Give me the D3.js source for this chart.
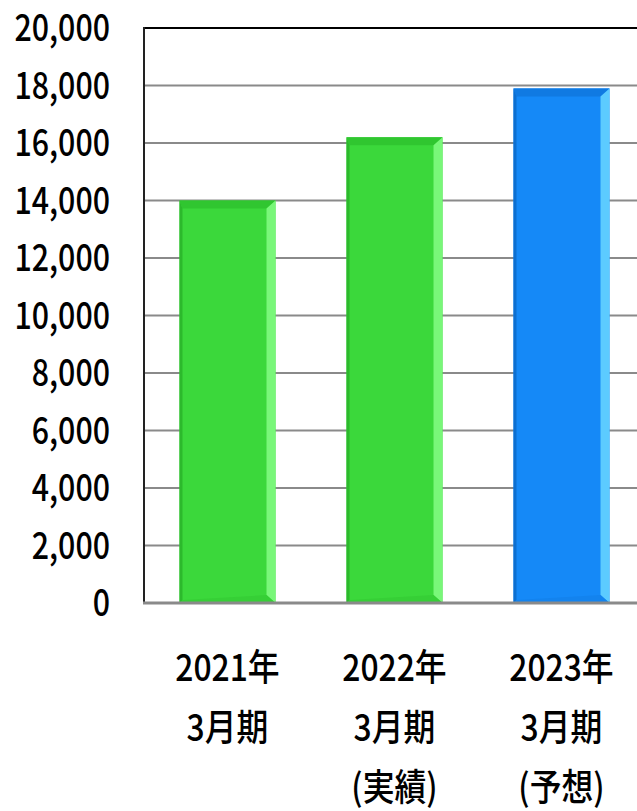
<!DOCTYPE html>
<html>
<head>
<meta charset="utf-8">
<script src="https://cdn.jsdelivr.net/npm/d3@7"></script>
<style>
  body { margin: 0; background: #fff; }
  text { font-family: "Liberation Sans Narrow", "Noto Sans CJK JP", sans-serif; fill: #000; font-weight: 500; }
</style>
</head>
<body>
<script>
var width = 637;
var height = 811;

var categories = ["2021", "2022", "2023"];
var labelLines = [
  ["2021年", "3月期"],
  ["2022年", "3月期", "(実績)"],
  ["2023年", "3月期", "(予想)"]
];
var values = [14000, 16200, 17900];
var yTicks = [0, 2000, 4000, 6000, 8000, 10000, 12000, 14000, 16000, 18000, 20000];

// forecast bar is blue, actuals green
var fills = ["green", "green", "blue"];
var palette = {
  green: { face: "#3bd83b", top: "#30c630", right: "#79f779", left: "#2cb92c", bottom: "#36cf36" },
  blue:  { face: "#1589f7", top: "#107ae2", right: "#5ccbff", left: "#0d6fd0", bottom: "#1383ee" }
};

var plotLeft = 144, plotRight = 645, plotTop = 28, plotBottom = 603;

var svg = d3.select("body")
  .append("svg")
  .attr("width", width)
  .attr("height", height);

var x = d3.scaleBand()
  .domain(categories)
  .range([plotLeft, plotRight])
  .paddingInner(0.425)
  .paddingOuter(0.2125);

var y = d3.scaleLinear()
  .domain([0, 20000])
  .range([plotBottom, plotTop]);

// gridlines
svg.selectAll("line.grid")
  .data(yTicks.filter(function(d) { return d > 0 && d < 20000; }))
  .enter()
  .append("line")
  .attr("class", "grid")
  .attr("x1", plotLeft)
  .attr("x2", width)
  .attr("y1", function(d) { return y(d); })
  .attr("y2", function(d) { return y(d); })
  .attr("stroke", "#8a8a8a")
  .attr("stroke-width", 2);

// frame: top and left black
svg.append("line")
  .attr("x1", plotLeft).attr("x2", width)
  .attr("y1", y(20000)).attr("y2", y(20000))
  .attr("stroke", "#000").attr("stroke-width", 2);
svg.append("line")
  .attr("x1", plotLeft).attr("x2", plotLeft)
  .attr("y1", y(20000) - 1).attr("y2", y(0))
  .attr("stroke", "#222").attr("stroke-width", 2);

// bars with bevel
var bev = 9, bevTop = 8;
var bars = svg.selectAll("g.bar")
  .data(values)
  .enter()
  .append("g")
  .attr("class", "bar");

bars.each(function(d, i) {
  var g = d3.select(this);
  var c = palette[fills[i]];
  var x0 = x(categories[i]), x1 = x0 + x.bandwidth();
  var y0 = y(d), y1 = y(0);
  g.append("rect")
    .attr("x", x0).attr("y", y0)
    .attr("width", x1 - x0).attr("height", y1 - y0)
    .attr("fill", c.face);
  // top bevel
  g.append("polygon")
    .attr("points", [[x0, y0], [x1, y0], [x1 - bev, y0 + bevTop], [x0 + 3, y0 + bevTop]].join(" "))
    .attr("fill", c.top);
  // right bevel
  g.append("polygon")
    .attr("points", [[x1, y0], [x1, y1], [x1 - bev, y1 - bevTop], [x1 - bev, y0 + bevTop]].join(" "))
    .attr("fill", c.right);
  // left edge
  g.append("polygon")
    .attr("points", [[x0, y0], [x0 + 3, y0 + bevTop], [x0 + 3, y1 - 3], [x0, y1]].join(" "))
    .attr("fill", c.left);
  // bottom bevel
  g.append("polygon")
    .attr("points", [[x0, y1], [x0 + 3, y1 - 3], [x1 - bev, y1 - bevTop], [x1, y1]].join(" "))
    .attr("fill", c.bottom);
});

// bottom axis line
svg.append("line")
  .attr("x1", plotLeft - 1).attr("x2", width)
  .attr("y1", y(0)).attr("y2", y(0))
  .attr("stroke", "#8a8a8a").attr("stroke-width", 3);

// y tick labels (condensed)
svg.selectAll("g.ytick")
  .data(yTicks)
  .enter()
  .append("g")
  .attr("class", "ytick")
  .attr("transform", function(d) { return "translate(110," + y(d) + ") scale(0.82,1)"; })
  .append("text")
  .attr("dy", "0.36em")
  .attr("text-anchor", "end")
  .attr("font-size", 37)
  .text(function(d) { return d3.format(",")(d); });

// category labels
var cat = svg.selectAll("g.cat")
  .data(categories)
  .enter()
  .append("g")
  .attr("class", "cat")
  .attr("transform", function(d) { return "translate(" + (x(d) + x.bandwidth() / 2) + ",0)"; });

cat.each(function(d, i) {
  var g = d3.select(this);
  labelLines[i].forEach(function(t, k) {
    g.append("text")
      .attr("x", 0)
      .attr("y", 668 + k * 60)
      .attr("dy", "0.36em")
      .attr("text-anchor", "middle")
      .attr("font-size", 37)
      .attr("transform", "scale(0.86,1)")
      .text(t);
  });
});
</script>
</body>
</html>
